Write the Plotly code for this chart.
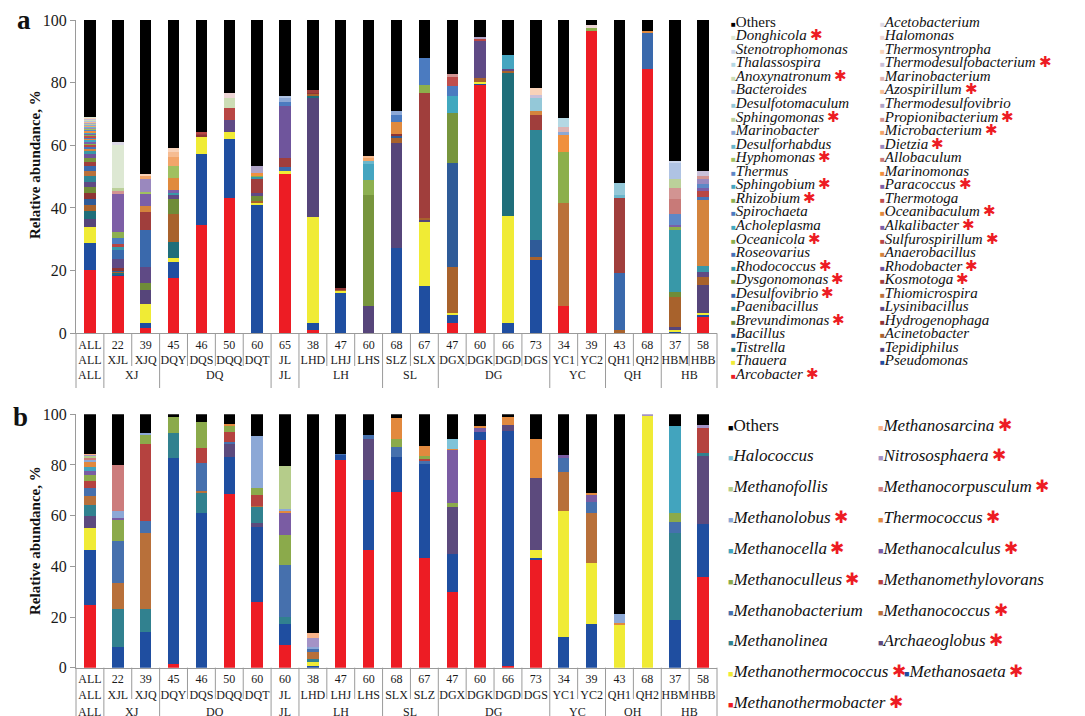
import plotly.graph_objects as go

FONT = "Liberation Serif, Times New Roman, serif"
LINE = "#9a9a9a"
STAR_RED = "#ED1C24"

# ---------------- categories ----------------
samples_a = ["ALL", "XJL", "XJQ", "DQY", "DQS", "DQQ", "DQT", "JL", "LHD", "LHJ", "LHS", "SLZ",
             "SLX", "DGX", "DGK", "DGD", "DGS", "YC1", "YC2", "QH1", "QH2", "HBM", "HBB"]
numbers_a = ["ALL", "22", "39", "45", "46", "50", "60", "65", "38", "47", "60", "68",
             "67", "47", "60", "66", "73", "34", "39", "43", "68", "37", "58"]
samples_b = ["ALL", "XJL", "XJQ", "DQY", "DQS", "DQQ", "DQT", "JL", "LHD", "LHJ", "LHS", "SLX",
             "SLZ", "DGX", "DGK", "DGD", "DGS", "YC1", "YC2", "QH1", "QH2", "HBM", "HBB"]
numbers_b = ["ALL", "22", "39", "45", "46", "50", "60", "60", "38", "47", "60", "68",
             "67", "47", "60", "66", "73", "34", "39", "43", "68", "37", "58"]
groups = ["ALL", "XJ", "XJ", "DQ", "DQ", "DQ", "DQ", "JL", "LH", "LH", "LH", "SL",
          "SL", "DG", "DG", "DG", "DG", "YC", "YC", "QH", "QH", "HB", "HB"]

# ---------------- panel a: bacteria (stack order bottom -> top) ----------------
arcobacter = [20.2, 18.6, 1.8, 17.8, 34.6, 43.1, 0, 50.7, 0.9, 0, 0, 0, 0, 3.2, 79.3, 0, 0, 8.7, 96.5, 0, 84.3, 0, 5.1]
pseudomonas = [8.7, 0.3, 1.6, 4.9, 22.6, 18.8, 41.0, 0, 2.5, 12.8, 0, 27.1, 15.2, 2.9, 0.5, 3.2, 23.4, 0, 0, 0, 0, 0.6, 0.8]
thauera = [4.9, 0, 5.9, 1.2, 5.6, 2.5, 0.7, 1.1, 33.8, 0.8, 0, 0, 20.2, 0.4, 0.5, 34.4, 0, 0, 0, 0, 0, 0.5, 0.5]
tepidiphilus = [2.7, 0, 4.5, 0, 0, 0, 0, 0, 38.0, 0, 8.8, 33.7, 0.8, 0, 0, 0, 0, 0, 0, 0, 0, 1.0, 9.0]
tistrella = [2.4, 0.5, 0, 5.4, 0, 0, 0, 0, 0.6, 0, 0, 0, 0, 0, 0, 45.4, 0, 0, 0, 0, 0, 0, 0]
acinetobacter = [2.1, 0.4, 0, 8.8, 0, 0, 0.6, 0, 0.6, 0.5, 0, 1.4, 0.5, 14.8, 1.1, 0.7, 1.1, 0, 0, 1.1, 0, 9.6, 2.7]
bacillus = [1.9, 0.4, 0, 0, 0, 0, 0, 0, 0, 0, 0, 0.8, 0, 33.2, 0, 0, 5.3, 0, 0, 0, 0, 0, 0]
hydrogenophaga = [2.0, 0.5, 0, 0, 0.6, 0, 0, 0, 0.6, 0.3, 0, 0.6, 0, 0, 0, 0, 0, 0, 0, 0, 0, 0, 0]
brevundimonas = [1.7, 0, 2.4, 4.8, 0, 0, 1.5, 0, 0, 0, 0, 0, 0, 0, 0, 0, 0, 0, 0, 0, 0, 1.6, 0]
lysinibacillus = [1.7, 2.9, 5.0, 1.1, 0, 3.7, 1.1, 0, 0, 0, 0, 0, 0, 0, 12.2, 0.7, 0, 0, 0, 0, 0, 0, 1.6]
paenibacillus = [1.9, 0, 0, 0, 0, 0, 0, 0, 0, 0, 0, 0, 0, 0, 0, 0, 35.1, 0, 0, 0, 0, 0, 0]
thiomicrospira = [1.6, 0, 0, 0, 0, 0, 0, 0, 0, 0, 0, 0, 0, 0, 0, 0, 0, 33.0, 0, 0, 0, 0, 0]
desulfovibrio = [1.6, 3.0, 11.9, 0, 0, 0, 0, 1.2, 0, 0, 0, 0, 0, 0, 0, 0, 0, 0, 0, 18.0, 11.4, 0, 0]
kosmotoga = [1.3, 0, 5.6, 0, 0.5, 0, 4.6, 3.1, 0.5, 0, 0, 0, 39.9, 0, 0, 0, 4.8, 0, 0, 24.0, 0, 0, 0]
dysgonomonas = [1.3, 0, 0, 0, 0, 0, 0, 0, 0, 0, 35.3, 0, 0, 15.7, 0, 0, 0, 0, 0, 0, 0, 0, 0]
rhodobacter = [1.2, 0, 0, 0, 0, 0, 0, 16.6, 0, 0, 0, 0, 0, 0, 0, 0, 0, 0, 0, 0, 0, 0, 0]
rhodococcus = [1.1, 1.1, 0, 0.8, 0, 0, 0.5, 0, 0, 0, 0, 0, 0, 0, 0, 0, 0, 0, 0, 0, 0, 19.7, 1.8]
anaerobacillus = [0.7, 0, 1.8, 0, 0, 0, 0, 0, 0, 0, 0, 0, 0, 0, 0, 0, 1.3, 0, 0, 0, 0, 0, 21.2]
roseovarius = [0.6, 0, 0, 0, 0, 0, 0, 0, 0, 0, 0, 0, 0, 0, 0, 0, 0, 0, 0, 0, 0, 0, 0.7]
sulfurospirillum = [0.6, 0.8, 0, 0, 0.3, 3.9, 0, 0, 0, 0, 0, 0, 0, 0, 0.4, 0, 0, 0, 0, 0, 0, 0, 2.1]
oceanicola = [0.5, 0, 0, 0, 0, 0, 0.5, 0, 0, 0, 0, 0, 2.7, 0, 0, 0, 0, 16.3, 0, 0, 0, 1.0, 0]
alkalibacter = [0.5, 0, 4.1, 1.1, 0, 0, 0, 0, 0, 0, 0, 0, 0, 0, 0, 0, 0, 0, 0, 0, 0, 0.5, 0.8]
acholeplasma = [0.5, 0, 0, 0, 0, 0, 0, 0, 0, 0, 0, 0, 0, 5.5, 0, 0, 0, 0, 0, 0, 0, 0, 0]
oceanibaculum = [0.5, 0, 0, 3.6, 0, 0, 0, 0, 0, 0, 0, 3.9, 0, 0, 0, 0, 0, 0, 0, 0, 0.9, 0, 0]
spirochaeta = [0.4, 1.8, 0, 0, 0, 0, 0, 1.2, 0, 0, 0, 2.1, 8.7, 3.2, 0, 0, 0, 0, 0, 0, 0, 0, 0]
thermotoga = [0.4, 0, 0, 0, 0, 0, 0, 0, 0, 0, 0, 0, 0, 3.2, 0, 0, 0, 0, 0, 0, 0, 0, 0]
rhizobium = [0.4, 2.1, 0, 0, 0, 0, 0, 0, 0, 0, 4.8, 0, 0, 0, 0, 0, 0, 0, 1.1, 0, 0, 0, 0]
paracoccus = [0.4, 12.0, 0, 0, 0, 0, 0, 0, 0, 0, 0, 0, 0, 0, 0, 0, 0, 0, 0, 0, 0, 0, 0]
sphingobium = [0.4, 0, 0, 0, 0, 0, 0, 0, 0, 0, 5.1, 0, 0, 0, 0, 4.5, 0, 0, 0, 0, 0, 0, 0]
marinomonas = [0.4, 0, 0, 0, 0, 0, 0.6, 0, 0, 0, 0, 0, 0, 0, 0, 0, 0, 5.3, 0, 0, 0, 0, 0]
thermus = [0.3, 0, 0, 0, 0, 0, 0, 0, 0, 0, 0, 0, 0, 0, 0, 0, 0, 0, 0, 0, 0, 3.7, 1.3]
allobaculum = [0.3, 0, 0, 0, 0, 0, 0, 0, 0, 0, 0, 0, 0, 0, 0, 0, 0, 0, 0, 0, 0, 4.8, 0]
hyphomonas = [0.3, 0, 0.5, 3.9, 0, 0, 0, 0, 0, 0, 0, 0, 0, 0, 0, 0, 0, 0, 0, 0, 0, 0, 0]
dietzia = [0.3, 0, 4.3, 0, 0, 0, 0, 0, 0, 0, 0, 0, 0, 0, 0, 0, 0, 0, 0, 0, 0, 0, 1.6]
desulforhabdus = [0.3, 0, 0, 0, 0, 0, 0, 0, 0, 0, 1.0, 0, 0, 0, 0, 0, 0, 0, 0, 1.0, 0, 0, 0]
microbacterium = [0.3, 0, 0.8, 3.0, 0, 0, 0, 0, 0, 0, 0.8, 0, 0, 0, 0, 0, 0, 0, 0, 0, 0, 0, 0]
marinobacter = [0.2, 0, 0, 0, 0, 0, 0, 1.1, 0, 0, 0, 1.3, 0, 0, 0, 0, 0, 1.1, 0, 0, 0, 0, 0]
propionibacterium = [0.2, 0.9, 0, 0, 0, 0, 0, 0, 0, 0, 0, 0, 0, 0.6, 0, 0, 0, 0, 0, 0, 0, 3.5, 1.1]
sphingomonas = [0.2, 1.0, 0, 0, 0, 0, 0, 0, 0, 0, 0, 0, 0, 0, 0, 0, 0, 0, 0, 0, 0, 2.9, 0]
thermodesulfovibrio = [0.2, 0, 0, 0, 0, 0, 2.4, 0, 0, 0, 0, 0, 0, 0, 0.5, 0, 0, 0, 0, 0, 0, 0, 0]
desulfotomaculum = [0.2, 0, 0, 0, 0, 0, 0, 0, 0, 0, 0, 0, 0, 0, 0, 0, 4.0, 0, 0, 3.8, 0, 0, 0]
azospirillum = [0.2, 0, 0, 1.6, 0, 0, 0, 0, 0, 0, 0.8, 0, 0, 0, 0, 0, 0, 0, 0, 0, 0, 0, 0]
bacteroides = [0.2, 0, 0, 0, 0, 0, 0, 0.7, 0, 0, 0, 0, 0, 0, 0, 0, 0, 0, 0, 0, 0, 4.8, 0]
marinobacterium = [0.2, 0, 0, 0, 0, 0, 0, 0, 0, 0, 0, 0, 0, 0, 0, 0, 0, 1.6, 0, 0, 0, 0, 0]
anoxynatronum = [0.2, 0, 0, 0, 0, 3.0, 0, 0, 0, 0, 0, 0, 0, 0, 0, 0, 0, 0, 0, 0, 0, 0, 0]
thermodesulfobacterium = [0.2, 0, 0, 0, 0, 0, 0, 0, 0, 0, 0, 0, 0, 0, 0, 0, 1.1, 0, 0, 0, 0, 0, 1.6]
thalassospira = [0.2, 0, 0, 0, 0, 0, 0, 0, 0, 0, 0, 0, 0, 0, 0, 0, 0, 2.6, 0, 0, 0, 0, 0]
thermosyntropha = [0.2, 0, 0.7, 1.0, 0, 0, 0, 0, 0, 0, 0, 0, 0, 0, 0, 0, 2.1, 0, 0, 0, 0, 0, 0]
stenotrophomonas = [0.1, 0, 0, 0, 0, 0, 0, 0, 0, 0, 0, 0, 0, 0, 0, 0, 0, 0, 0, 0, 0, 0.7, 0]
halomonas = [0.1, 0, 0, 0, 0, 1.8, 0, 0, 0, 0, 0, 0, 0, 0, 0, 0, 0, 0, 0.8, 0, 0, 0, 0]
donghicola = [0.1, 13.8, 0, 0, 0, 0, 0, 0, 0, 0, 0, 0, 0, 0, 0, 0, 0, 0, 0, 0, 0, 0, 0]
acetobacterium = [0.1, 1.1, 0, 0, 0, 0, 0, 0, 0, 0, 0, 0, 0, 0, 0, 0, 0, 0, 0, 0, 0, 0, 0]
others_a = [30.8, 38.8, 49.1, 41.0, 35.8, 23.2, 46.5, 24.3, 22.5, 85.6, 43.4, 29.1,
            12.0, 17.3, 5.5, 11.1, 21.8, 31.4, 1.6, 52.1, 3.4, 45.1, 48.1]

# (name, starred, colour, values) bottom -> top
series_a = [
    ("Arcobacter", True, "#ED1C24", arcobacter),
    ("Pseudomonas", False, "#1F4EA0", pseudomonas),
    ("Thauera", False, "#F0EB35", thauera),
    ("Tepidiphilus", False, "#56457A", tepidiphilus),
    ("Tistrella", False, "#1F6E7A", tistrella),
    ("Acinetobacter", False, "#A8622C", acinetobacter),
    ("Bacillus", False, "#2F5B98", bacillus),
    ("Hydrogenophaga", False, "#8E3434", hydrogenophaga),
    ("Brevundimonas", True, "#6F8C38", brevundimonas),
    ("Lysinibacillus", False, "#5F4A85", lysinibacillus),
    ("Paenibacillus", False, "#2F8595", paenibacillus),
    ("Thiomicrospira", False, "#BA713A", thiomicrospira),
    ("Desulfovibrio", True, "#3A69AC", desulfovibrio),
    ("Kosmotoga", True, "#A03E3C", kosmotoga),
    ("Dysgonomonas", True, "#77953D", dysgonomonas),
    ("Rhodobacter", True, "#6F559C", rhodobacter),
    ("Rhodococcus", True, "#3898A8", rhodococcus),
    ("Anaerobacillus", False, "#D4843D", anaerobacillus),
    ("Roseovarius", False, "#4673B8", roseovarius),
    ("Sulfurospirillum", True, "#B84644", sulfurospirillum),
    ("Oceanicola", True, "#8CAF4B", oceanicola),
    ("Alkalibacter", True, "#7B5FA8", alkalibacter),
    ("Acholeplasma", False, "#41A8BF", acholeplasma),
    ("Oceanibaculum", True, "#E08A3E", oceanibaculum),
    ("Spirochaeta", False, "#4B7BC0", spirochaeta),
    ("Thermotoga", False, "#C04E4C", thermotoga),
    ("Rhizobium", True, "#8DB050", rhizobium),
    ("Paracoccus", True, "#7D5FA6", paracoccus),
    ("Sphingobium", True, "#45A5C0", sphingobium),
    ("Marinomonas", False, "#F0903E", marinomonas),
    ("Thermus", False, "#5E88C6", thermus),
    ("Allobaculum", False, "#C87A78", allobaculum),
    ("Hyphomonas", True, "#A0C060", hyphomonas),
    ("Dietzia", True, "#9A88BE", dietzia),
    ("Desulforhabdus", False, "#6BB7CC", desulforhabdus),
    ("Microbacterium", True, "#F2A56A", microbacterium),
    ("Marinobacter", False, "#8CA8D6", marinobacter),
    ("Propionibacterium", True, "#D29492", propionibacterium),
    ("Sphingomonas", True, "#BBD09A", sphingomonas),
    ("Thermodesulfovibrio", False, "#AFA3C6", thermodesulfovibrio),
    ("Desulfotomaculum", False, "#94C8D8", desulfotomaculum),
    ("Azospirillum", True, "#F6BC92", azospirillum),
    ("Bacteroides", False, "#AFC3E3", bacteroides),
    ("Marinobacterium", False, "#DEB3B2", marinobacterium),
    ("Anoxynatronum", True, "#CCDDB5", anoxynatronum),
    ("Thermodesulfobacterium", True, "#C9C0D9", thermodesulfobacterium),
    ("Thalassospira", False, "#B4D8E3", thalassospira),
    ("Thermosyntropha", False, "#F8D2B9", thermosyntropha),
    ("Stenotrophomonas", False, "#CCD7EC", stenotrophomonas),
    ("Halomonas", False, "#EDD5D5", halomonas),
    ("Donghicola", True, "#DDE8D3", donghicola),
    ("Acetobacterium", False, "#DCD9E6", acetobacterium),
    ("Others", False, "#000000", others_a),
]

# ---------------- panel b: archaea (stack order bottom -> top) ----------------
methanothermobacter = [24.7, 0, 0, 1.4, 0, 68.6, 26.1, 8.9, 0, 82.0, 46.4, 69.5, 43.4, 30.0, 89.9, 0.7, 42.5, 0, 0, 0, 0, 0, 35.9]
methanosaeta = [21.7, 8.0, 13.9, 81.2, 60.9, 14.7, 29.6, 8.2, 0.7, 1.9, 27.6, 13.8, 36.9, 14.7, 3.3, 92.7, 0.9, 12.2, 17.2, 0, 0, 18.8, 20.7]
methanothermococcus = [8.8, 0, 0, 0, 0, 0, 0, 0, 1.7, 0, 0, 0, 0, 0, 0, 0, 3.0, 49.6, 24.2, 17.1, 99.5, 0, 0]
archaeoglobus = [4.6, 0, 0, 0, 0, 4.9, 1.3, 0, 0, 0, 16.4, 0, 0, 18.9, 0, 2.4, 28.6, 0, 0, 0, 0, 0, 27.0]
methanolinea = [4.3, 15.2, 9.2, 9.9, 8.3, 0, 6.6, 3.0, 1.0, 0, 0, 0, 0, 0, 0, 0, 0, 0, 0, 0, 0, 34.2, 1.3]
methanococcus = [3.6, 10.1, 30.1, 0, 0.7, 0, 0.4, 0, 2.6, 0, 0, 0, 0, 0, 0, 0, 0, 15.5, 19.7, 0, 0, 0, 0]
methanobacterium = [3.4, 16.7, 4.6, 0, 11.0, 0.8, 0, 20.4, 1.3, 0.6, 1.6, 3.9, 1.1, 0, 0, 0, 0, 5.5, 4.3, 0, 0, 4.6, 0]
methanomethylovorans = [2.5, 0, 30.3, 0, 5.7, 4.2, 4.2, 0, 0, 0, 0, 0, 1.0, 0, 0, 0, 0, 0, 0, 0, 0, 0, 9.6]
methanoculleus = [2.4, 8.3, 3.7, 6.6, 10.2, 2.0, 2.9, 11.9, 0, 0, 0, 2.9, 1.3, 1.3, 0, 0, 0, 0, 0, 0, 0, 3.6, 0]
methanocalculus = [1.7, 0.6, 0, 0, 0, 0, 0, 8.9, 0, 0, 0, 0, 0, 21.0, 1.3, 0, 0, 1.3, 2.9, 0, 0, 0, 0]
methanocella = [1.6, 0, 0, 0, 0, 0, 0, 0, 0, 0, 0, 0, 0, 0, 0, 0, 0, 0, 0, 0, 0, 34.3, 0]
thermococcus = [1.7, 0, 0, 0, 0, 0.9, 0, 0.7, 0, 0, 0, 8.3, 3.9, 0.6, 1.0, 3.3, 15.1, 0, 0.8, 0.4, 0, 0, 0]
methanolobus = [1.1, 2.9, 0.9, 0, 0, 0, 20.3, 0.6, 0.9, 0, 0, 0, 0, 0, 0, 0, 0, 0, 0, 3.7, 0, 0, 0]
methanocorpusculum = [0.8, 18.2, 0, 0, 0, 0, 0, 0, 0, 0, 0, 0, 0, 0, 0, 0, 0, 0, 0, 0, 0, 0, 0]
methanofollis = [0.9, 0, 0, 0, 0, 0, 0, 17.1, 0, 0, 0, 0, 0, 0, 0, 0, 0, 0, 0, 0, 0, 0, 0]
nitrososphaera = [0.2, 0, 0, 0, 0, 0, 0, 0, 3.6, 0, 0, 0, 0, 0, 0, 0, 0, 0, 0, 0, 0.5, 0, 1.3]
halococcus = [0.1, 0, 0, 0, 0, 0, 0, 0, 0, 0, 0, 0, 0, 3.6, 0, 0, 0, 0, 0, 0, 0, 0, 0]
methanosarcina = [0.1, 0, 0, 0, 0, 0, 0, 0, 1.8, 0, 0, 0, 0, 0, 0, 0, 0, 0, 0, 0, 0, 0, 0]
others_b = [15.8, 20.0, 7.3, 0.9, 3.2, 3.9, 8.6, 20.3, 86.4, 15.5, 8.0, 1.6,
            12.4, 9.9, 4.5, 0.9, 9.9, 15.9, 30.9, 78.8, 0, 4.5, 4.2]

series_b = [
    ("Methanothermobacter", True, "#ED1C24", methanothermobacter),
    ("Methanosaeta", True, "#1F4EA0", methanosaeta),
    ("Methanothermococcus", True, "#F0EB35", methanothermococcus),
    ("Archaeoglobus", True, "#5C4A7D", archaeoglobus),
    ("Methanolinea", False, "#31818F", methanolinea),
    ("Methanococcus", True, "#B8703A", methanococcus),
    ("Methanobacterium", False, "#4670AD", methanobacterium),
    ("Methanomethylovorans", False, "#B5423F", methanomethylovorans),
    ("Methanoculleus", True, "#8BAA4B", methanoculleus),
    ("Methanocalculus", True, "#7A5CA3", methanocalculus),
    ("Methanocella", True, "#42A4BE", methanocella),
    ("Thermococcus", True, "#E2893E", thermococcus),
    ("Methanolobus", True, "#8CA8D6", methanolobus),
    ("Methanocorpusculum", True, "#CC7C7C", methanocorpusculum),
    ("Methanofollis", False, "#B5CC8A", methanofollis),
    ("Nitrososphaera", True, "#A493C6", nitrososphaera),
    ("Halococcus", False, "#7FC3D9", halococcus),
    ("Methanosarcina", True, "#F9B48A", methanosarcina),
    ("Others", False, "#000000", others_b),
]

# ---------------- geometry helpers (pixel -> paper) ----------------
W, H = 1085, 716
ML, MR, MT, MB = 76, 368, 20, 48
PW, PH = W - ML - MR, H - MT - MB


def pxx(x):
    return (x - ML) / PW


def pxy(y):
    return (H - MB - y) / PH


fig = go.Figure()

for name, star, color, vals in series_a:
    fig.add_trace(go.Bar(x=samples_a, y=vals, name=name, marker=dict(color=color, line=dict(width=0)),
                         xaxis="x", yaxis="y", showlegend=False))
for name, star, color, vals in series_b:
    fig.add_trace(go.Bar(x=samples_b, y=vals, name=name, marker=dict(color=color, line=dict(width=0)),
                         xaxis="x2", yaxis="y2", showlegend=False))

ticks_a = [f"{n}<br>{s}" for n, s in zip(numbers_a, samples_a)]
ticks_b = [f"{n}<br>{s}" for n, s in zip(numbers_b, samples_b)]

xcommon = dict(type="category", range=[-0.5, len(samples_a) - 0.5], tickmode="array", showline=True,
               linecolor=LINE, linewidth=1, ticks="", tickangle=0, showgrid=False, zeroline=False,
               automargin=False, tickfont=dict(family=FONT, size=12, color="#1a1a1a"))
ycommon = dict(range=[0, 100], tickvals=[0, 20, 40, 60, 80, 100], showline=True, linecolor=LINE,
               linewidth=1, ticks="outside", ticklen=5, tickcolor=LINE, showgrid=False, zeroline=False,
               automargin=False, tickfont=dict(family=FONT, size=16, color="#1a1a1a"))

ya_bottom, ya_top = 333.3, 20.0
yb_bottom, yb_top = 667.7, 414.3

fig.update_layout(
    width=W, height=H, margin=dict(l=ML, r=MR, t=MT, b=MB, autoexpand=False),
    barmode="stack", bargap=0.59, paper_bgcolor="white", plot_bgcolor="white",
    font=dict(family=FONT, color="#1a1a1a"), showlegend=False,
    xaxis=dict(xcommon, domain=[0, 1], anchor="y", tickvals=samples_a, ticktext=ticks_a,
               categoryorder="array", categoryarray=samples_a),
    yaxis=dict(ycommon, domain=[pxy(ya_bottom), pxy(ya_top)], anchor="x"),
    xaxis2=dict(xcommon, domain=[0, 1], anchor="y2", tickvals=samples_b, ticktext=ticks_b,
                categoryorder="array", categoryarray=samples_b),
    yaxis2=dict(ycommon, domain=[pxy(yb_bottom), pxy(yb_top)], anchor="x2"),
)

annotations = []
shapes = []

# ---------------- table under each panel ----------------
def add_table(xref, axis_y, inner_end, outer_end, label_y):
    n = len(groups)
    for i in range(n - 1):
        end = outer_end if groups[i] != groups[i + 1] else inner_end
        shapes.append(dict(type="line", xref=xref, yref="paper", x0=i + 0.5, x1=i + 0.5,
                           y0=pxy(axis_y), y1=pxy(end), line=dict(color=LINE, width=1)))
    for xe in (0, 1):
        shapes.append(dict(type="line", xref="paper", yref="paper", x0=xe, x1=xe,
                           y0=pxy(axis_y), y1=pxy(outer_end), line=dict(color=LINE, width=1)))
    start = 0
    for i in range(1, n + 1):
        if i == n or groups[i] != groups[start]:
            annotations.append(dict(x=(start + i - 1) / 2, y=pxy(label_y), xref=xref, yref="paper",
                                    text=groups[start], showarrow=False, xanchor="center", yanchor="middle",
                                    font=dict(family=FONT, size=12, color="#1a1a1a")))
            start = i


add_table("x", ya_bottom, 366, 388, 375)
add_table("x2", yb_bottom, 699, 730, 712)

# ---------------- custom two-column legends ----------------
def add_legend(series, col_x, y0, dy, size, msize, shift=None):
    entries = list(reversed(series))
    for k, (name, star, color, _vals) in enumerate(entries):
        row, col = divmod(k, 2)
        label = name if name == "Others" else f"<i>{name}</i>"
        ast = f"<span style='color:{STAR_RED};font-size:{size}px'>\u2009✱</span>" if star else ""
        text = f"<span style='color:{color};font-size:{msize}px'>■</span>{label}{ast}"
        x = col_x[col] + (shift.get(name, 0) if shift else 0)
        annotations.append(dict(x=pxx(x), y=pxy(y0 + row * dy), xref="paper", yref="paper", text=text,
                                showarrow=False, xanchor="left", yanchor="middle",
                                font=dict(family=FONT, size=size, color="#111111")))


add_legend(series_a, (729, 878), 21.7, 13.55, 15, 8)
add_legend(series_b, (726, 876), 425, 30.85, 17, 9, shift={"Methanosaeta": 26})

# ---------------- panel letters & axis titles ----------------
for letter, lx, ly in (("a", 24, 20), ("b", 20, 417)):
    annotations.append(dict(x=pxx(lx), y=pxy(ly), xref="paper", yref="paper", text=f"<b>{letter}</b>",
                            showarrow=False, xanchor="center", yanchor="middle",
                            font=dict(family=FONT, size=27, color="#111111")))
for ty in (165, 541):
    annotations.append(dict(x=pxx(35), y=pxy(ty), xref="paper", yref="paper",
                            text="<b>Relative abundance, %</b>", textangle=-90, showarrow=False,
                            xanchor="center", yanchor="middle",
                            font=dict(family=FONT, size=15, color="#111111")))

fig.update_layout(annotations=annotations, shapes=shapes)

fig.write_html("out.html", config={"displayModeBar": False},
               post_script="document.body.style.margin='0';")
